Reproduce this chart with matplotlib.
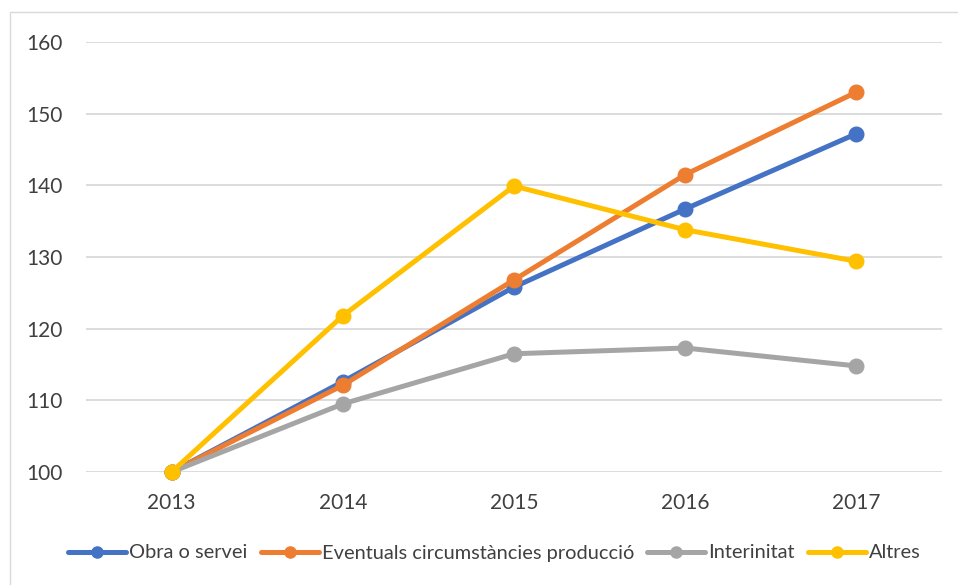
import matplotlib
matplotlib.use("Agg")
import matplotlib.pyplot as plt
from matplotlib.patches import Rectangle

years = ["2013", "2014", "2015", "2016", "2017"]
obra = [100, 112.6, 125.8, 136.7, 147.2]
eventuals = [100, 112.1, 126.8, 141.5, 153.0]
interinitat = [100, 109.5, 116.5, 117.3, 114.8]
altres = [100, 121.8, 139.9, 133.8, 129.4]
series_names = ["Obra o servei", "Eventuals circumstàncies producció", "Interinitat", "Altres"]
colors = ["#4472C4", "#ED7D31", "#A5A5A5", "#FFC000"]
yticks = [100, 110, 120, 130, 140, 150, 160]

plt.rcParams['font.family'] = ['Lato', 'DejaVu Sans']

fig = plt.figure(figsize=(9.58, 5.85), dpi=100)
fig.patches.append(Rectangle((10/958, -0.01), 1.0, 1 - 12/585 + 0.01, transform=fig.transFigure,
                             facecolor='none', edgecolor='#D9D9D9', linewidth=1.0))
ax = fig.add_axes([86/958, 1 - 472/585, (942 - 86)/958, (472 - 42)/585])

x = list(range(len(years)))
for vals, name, c in zip([obra, eventuals, interinitat, altres], series_names, colors):
    ax.plot(x, vals, color=c, linewidth=3.6, marker='o', markersize=10.5, label=name,
            solid_capstyle='round', clip_on=False)

ax.set_xlim(-0.5, len(years) - 0.5)
ax.set_ylim(100, 160)
ax.set_yticks(yticks)
ax.set_xticks(x)
ax.set_xticklabels(years)
ax.grid(axis='y', color='#D9D9D9', linewidth=1.3)
ax.set_axisbelow(True)
for s in ax.spines.values():
    s.set_visible(False)
ax.tick_params(axis='both', length=0, labelsize=15, colors='#404040')
ax.tick_params(axis='y', pad=16.5)
ax.tick_params(axis='x', pad=15)

leg = fig.legend(loc='center', bbox_to_anchor=(0.516, 1 - 553/585), ncol=4, frameon=False,
                 fontsize=14.4, handlelength=2.9, handletextpad=0.15, columnspacing=0.65,
                 labelcolor='#404040')
for h in leg.legend_handles:
    h.set_markersize(8)

fig.savefig("out.png", dpi=100, facecolor='white')
